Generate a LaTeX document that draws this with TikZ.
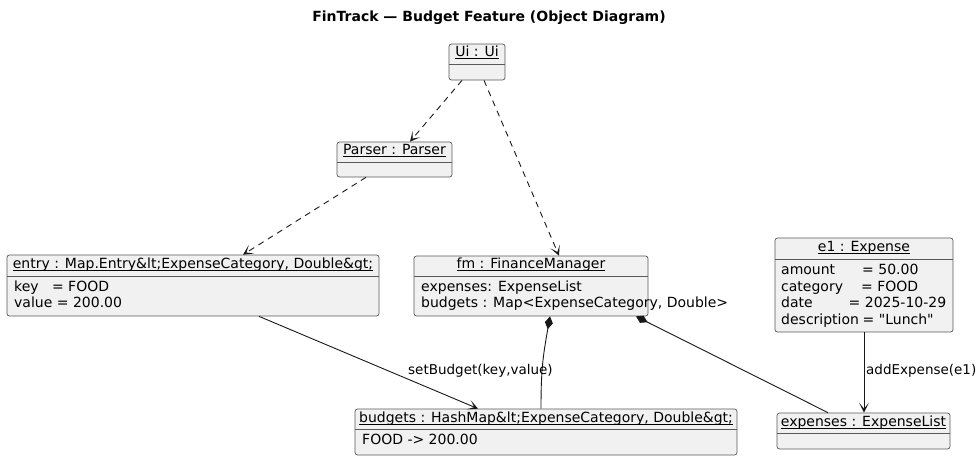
\documentclass[tikz,border=0pt]{standalone}
\usepackage{fontspec}
\setmainfont{DejaVu Sans}
\newfontfamily\plainfont{DejaVu Sans}
\usetikzlibrary{arrows.meta,fit}
\newcommand\ulx[1]{\setbox0=\hbox{#1}\rlap{\rule[-2.6pt]{\wd0}{0.8pt}}\box0}
\definecolor{boxfill}{HTML}{F1F1F1}
\definecolor{ink}{HTML}{181818}
\begin{document}
\begin{tikzpicture}[x=1pt,y=-1pt,
  objbox/.style={draw=black!65, fill=boxfill, rounded corners=2.5pt, line width=0.7pt, inner sep=0pt},
  sepline/.style={draw=black!65, line width=0.7pt},
  ttl/.style={inner sep=0pt, text height=10.5pt, text depth=3.3pt, font=\fontsize{14}{16}\selectfont},
  txt/.style={inner sep=0pt, anchor=west, text height=10.5pt, text depth=3.3pt, font=\fontsize{14}{16}\selectfont},
  conn/.style={draw=ink, line width=0.9pt},
  tip/.style={-{Stealth[length=10pt,width=10pt,inset=6pt]}},
  dep/.style={conn, tip, dash pattern=on 6pt off 5pt},
  assoc/.style={conn, tip},
  comp/.style={conn, {Diamond[length=13pt,width=8pt]}-},
  lbl/.style={inner sep=0pt, anchor=west, text height=10pt, text depth=3pt, font=\fontsize{13.5}{16}\selectfont}
]
\useasboundingbox (0,0) rectangle (978,459);

% title
\node[inner sep=0pt, font=\fontsize{14}{16}\selectfont\bfseries] (title) at (489,18) {FinTrack — Budget Feature (Object Diagram)};

% Ui
\node[objbox, fit={(449,44) (505,80)}] (ui) {};
\draw[sepline] (449,64) -- (505,64);
\node[ttl] (uit) at (477,53) {\ulx{Ui : Ui}};

% Parser
\node[objbox, fit={(337,142) (452,177)}] (parser) {};
\draw[sepline] (337,162) -- (452,162);
\node[ttl] (parsert) at (394.5,151) {\ulx{Parser : Parser}};

% entry
\node[objbox, fit={(7,255) (379,316)}] (entry) {};
\draw[sepline] (7,276) -- (379,276);
\node[ttl] (entryt) at (193,265) {\ulx{entry : Map.Entry\&lt;ExpenseCategory, Double\&gt;}};
\node[txt] (entry1) at (14,287.5) {key\ \ \ = FOOD};
\node[txt] (entry2) at (14,304) {value = 200.00};

% fm
\node[objbox, fit={(414,256) (648,316)}] (fm) {};
\draw[sepline] (414,276) -- (648,276);
\node[ttl] (fmt) at (531,265) {\ulx{fm : FinanceManager}};
\node[txt] (fm1) at (421,287.5) {expenses: ExpenseList};
\node[txt] (fm2) at (421,304) {budgets : Map<ExpenseCategory, Double>};

% e1
\node[objbox, fit={(775,238) (953,332)}] (e1) {};
\draw[sepline] (775,259) -- (953,259);
\node[ttl] (e1t) at (864,248) {\ulx{e1 : Expense}};
\node[txt] (e1a) at (781,271) {amount};
\node[txt] (e1av) at (862,271) {= 50.00};
\node[txt] (e1b) at (781,287.5) {category};
\node[txt] (e1bv) at (861,287.5) {= FOOD};
\node[txt] (e1c) at (781,304) {date};
\node[txt] (e1cv) at (848.5,304) {= 2025-10-29};
\node[txt] (e1d) at (781,320.5) {description};
\node[txt] (e1dv) at (862.5,320.5) {\plainfont = "Lunch"};

% budgets
\node[objbox, fit={(355,409) (737,455)}] (budgets) {};
\draw[sepline] (355,429) -- (737,429);
\node[ttl] (budgetst) at (546,418.5) {\ulx{budgets : HashMap\&lt;ExpenseCategory, Double\&gt;}};
\node[txt] (budgets1) at (362,440.5) {FOOD -> 200.00};

% expenses
\node[objbox, fit={(777,413) (950,449)}] (expenses) {};
\draw[sepline] (777,433) -- (950,433);
\node[ttl] (expensest) at (863.5,422.5) {\ulx{expenses : ExpenseList}};

% connectors
\draw[dep] ([xshift=-15pt]ui.south) -- ([xshift=15.5pt]parser.north);
\draw[dep] ([xshift=7pt]ui.south) -- ([xshift=28pt]fm.north);
\draw[dep] ([xshift=-28.5pt]parser.south) -- ([xshift=50pt]entry.north);
\draw[assoc] ([xshift=66pt]entry.south) -- ([xshift=-68pt]budgets.north);
\draw[comp] ([xshift=19pt]fm.south) .. controls ([xshift=12pt,yshift=-40pt]fm.south) and ([xshift=-5pt,yshift=40pt]budgets.north) .. ([xshift=-5pt]budgets.north);
\draw[comp] ([xshift=105pt]fm.south) -- ([xshift=-35.5pt]expenses.north);
\draw[assoc] (e1.south) -- ([xshift=0.5pt]expenses.north);

% labels
\node[lbl] (l1) at (408,370.5) {setBudget(key,value)};
\node[lbl] (l2) at (866,371) {addExpense(e1)};
\end{tikzpicture}
\end{document}
